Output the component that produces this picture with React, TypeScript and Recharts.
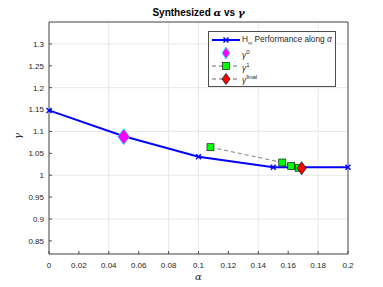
import React from 'react';
import { ComposedChart, Scatter, XAxis, YAxis, CartesianGrid, Legend } from 'recharts';

const alphaPath = [0, 0.05, 0.1, 0.15, 0.2];
const gammaPath = [1.148, 1.089, 1.042, 1.018, 1.018];

const alpha0 = [0.05];
const gamma0 = [1.088];

const alphaIter = [0.108, 0.156, 0.162, 0.167];
const gammaIter = [1.064, 1.029, 1.021, 1.017];

const alphaFinal = [0.169];
const gammaFinal = [1.016];

const xTicks = [0, 0.02, 0.04, 0.06, 0.08, 0.1, 0.12, 0.14, 0.16, 0.18, 0.2];
const yTicks = [0.85, 0.9, 0.95, 1, 1.05, 1.1, 1.15, 1.2, 1.25, 1.3];

const zip = (xs: number[], ys: number[]) => xs.map((x, i) => ({ x, y: ys[i] }));

const pathData = zip(alphaPath, gammaPath);
const startData = zip(alpha0, gamma0);
const iterData = zip(alphaIter, gammaIter);
const finalData = zip(alphaFinal, gammaFinal);
const iterLineData = [...iterData, ...finalData];

const FONT = '"Liberation Sans", Arial, Helvetica, sans-serif';
const AXIS = '#4d4d4d';
const TXT = '#262626';

const XMark = (p: any) => (
  <g stroke="#0000ff" strokeWidth={1.4}>
    <line x1={p.cx - 2.5} y1={p.cy - 2.5} x2={p.cx + 2.5} y2={p.cy + 2.5} />
    <line x1={p.cx - 2.5} y1={p.cy + 2.5} x2={p.cx + 2.5} y2={p.cy - 2.5} />
  </g>
);

const Diamond = ({ cx, cy, w, h, fill, stroke }: any) => (
  <polygon
    points={`${cx},${cy - h} ${cx + w},${cy} ${cx},${cy + h} ${cx - w},${cy}`}
    fill={fill}
    stroke={stroke}
    strokeWidth={0.8}
  />
);

const Square = ({ cx, cy }: any) => (
  <rect x={cx - 3.5} y={cy - 3.5} width={7} height={7} fill="#00ff00" stroke="#1a1a1a" strokeWidth={0.7} />
);

const noTick = () => <g />;

const legendRows = [
  { key: 'path', label: <>H<sub style={{ fontSize: 6 }}>∞</sub> Performance along <i>α</i></> },
  { key: 'start', label: <><i>γ</i><sup style={{ fontSize: 6 }}>0</sup></> },
  { key: 'iter', label: <><i>γ</i><sup style={{ fontSize: 6 }}>1</sup></> },
  { key: 'final', label: <><i>γ</i><sup style={{ fontSize: 6 }}>final</sup></> },
];

const LegendSymbol = ({ kind }: { kind: string }) => (
  <svg width={30} height={12} style={{ display: 'block' }}>
    {kind === 'path' && (
      <>
        <line x1={1} y1={6} x2={29} y2={6} stroke="#0000ff" strokeWidth={2} />
        <XMark cx={15} cy={6} />
      </>
    )}
    {kind === 'start' && <Diamond cx={15} cy={6} w={4} h={6} fill="#ff00ff" stroke="#00ffff" />}
    {kind === 'iter' && (
      <>
        <line x1={1} y1={6} x2={29} y2={6} stroke="#262626" strokeWidth={0.7} strokeDasharray="4 3" />
        <Square cx={15} cy={6} />
      </>
    )}
    {kind === 'final' && (
      <>
        <line x1={1} y1={6} x2={29} y2={6} stroke="#262626" strokeWidth={0.7} strokeDasharray="4 3" />
        <Diamond cx={15} cy={6} w={4} h={5.5} fill="#ff0000" stroke="#1a1a1a" />
      </>
    )}
  </svg>
);

const renderLegend = () => (
  <div
    style={{
      width: 128,
      height: 56,
      border: `1px solid ${AXIS}`,
      background: '#fff',
      boxSizing: 'border-box',
      padding: '2px 0 0 2px',
      fontFamily: FONT,
      fontSize: 8.3,
      color: TXT,
    }}
  >
    {legendRows.map((r) => (
      <div key={r.key} style={{ display: 'flex', alignItems: 'center', height: 12.8 }}>
        <LegendSymbol kind={r.key} />
        <span style={{ marginLeft: 1, whiteSpace: 'nowrap', lineHeight: '10px' }}>{r.label}</span>
      </div>
    ))}
  </div>
);

export default function App() {
  return (
    <div style={{ position: 'absolute', left: 0, top: 0, width: 383, height: 287, background: '#fff' }}>
      <ComposedChart width={383} height={287} margin={{ top: 0, right: 0, bottom: 0, left: 0 }}>
        <CartesianGrid xAxisId="b" yAxisId="l" stroke="#e6e6e6" strokeWidth={1} />
        <XAxis
          xAxisId="b"
          type="number"
          dataKey="x"
          orientation="bottom"
          domain={[0, 0.2]}
          ticks={xTicks}
          height={33}
          stroke={AXIS}
          tickSize={-3}
          tickMargin={11}
          tick={{ fill: TXT, fontSize: 8, fontFamily: FONT }}
          label={{
            content: ({ viewBox }: any) => (
              <text x={viewBox.x + viewBox.width / 2} y={280} textAnchor="middle" fontSize={10} fontStyle="italic" fontFamily="DejaVu Serif, serif" fill={TXT}>
                α
              </text>
            ),
          }}
        />
        <XAxis
          xAxisId="t"
          type="number"
          dataKey="x"
          orientation="top"
          domain={[0, 0.2]}
          ticks={xTicks}
          height={22}
          stroke={AXIS}
          tickSize={-3}
          tick={noTick}
          label={{
            content: ({ viewBox }: any) => (
              <text x={viewBox.x + viewBox.width / 2} y={16} textAnchor="middle" fontSize={10} fontWeight="bold" fontFamily={FONT} fill="#000">
                Synthesized <tspan fontFamily="DejaVu Serif, serif" fontStyle="italic">α</tspan> vs <tspan fontFamily="DejaVu Serif, serif" fontStyle="italic">γ</tspan>
              </text>
            ),
          }}
        />
        <YAxis
          yAxisId="l"
          type="number"
          dataKey="y"
          orientation="left"
          domain={[0.82, 1.35]}
          ticks={yTicks}
          width={49}
          stroke={AXIS}
          tickSize={-3}
          tickMargin={8}
          tick={{ fill: TXT, fontSize: 8, fontFamily: FONT }}
          label={{
            content: ({ viewBox }: any) => (
              <text
                x={21}
                y={viewBox.y + viewBox.height / 2 - 2}
                textAnchor="middle"
                fontSize={10}
                fontStyle="italic"
                fontFamily="DejaVu Serif, serif"
                fill={TXT}
                transform={`rotate(-90, 21, ${viewBox.y + viewBox.height / 2 - 2})`}
              >
                γ
              </text>
            ),
          }}
        />
        <YAxis
          yAxisId="r"
          type="number"
          dataKey="y"
          orientation="right"
          domain={[0.82, 1.35]}
          ticks={yTicks}
          width={35}
          stroke={AXIS}
          tickSize={-3}
          tick={noTick}
        />
        <Scatter
          name="path"
          data={pathData}
          xAxisId="b"
          yAxisId="l"
          line={{ stroke: '#0000ff', strokeWidth: 2 }}
          shape={XMark}
          isAnimationActive={false}
        />
        <Scatter
          name="iterLine"
          data={iterLineData}
          xAxisId="b"
          yAxisId="l"
          line={{ stroke: '#262626', strokeWidth: 0.6, strokeDasharray: '4 3' }}
          shape={noTick}
          isAnimationActive={false}
        />
        <Scatter
          name="start"
          data={startData}
          xAxisId="b"
          yAxisId="l"
          shape={(p: any) => <Diamond cx={p.cx} cy={p.cy} w={6} h={8} fill="#ff00ff" stroke="#00ffff" />}
          isAnimationActive={false}
        />
        <Scatter
          name="iter"
          data={iterData}
          xAxisId="b"
          yAxisId="l"
          shape={Square}
          isAnimationActive={false}
        />
        <Scatter
          name="final"
          data={finalData}
          xAxisId="b"
          yAxisId="l"
          shape={(p: any) => <Diamond cx={p.cx} cy={p.cy} w={4.5} h={6.5} fill="#ff0000" stroke="#1a1a1a" />}
          isAnimationActive={false}
        />
        <Legend
          layout="vertical"
          align="center"
          verticalAlign="middle"
          content={renderLegend}
          wrapperStyle={{ left: 208, top: 31, width: 128 }}
        />
      </ComposedChart>
    </div>
  );
}
